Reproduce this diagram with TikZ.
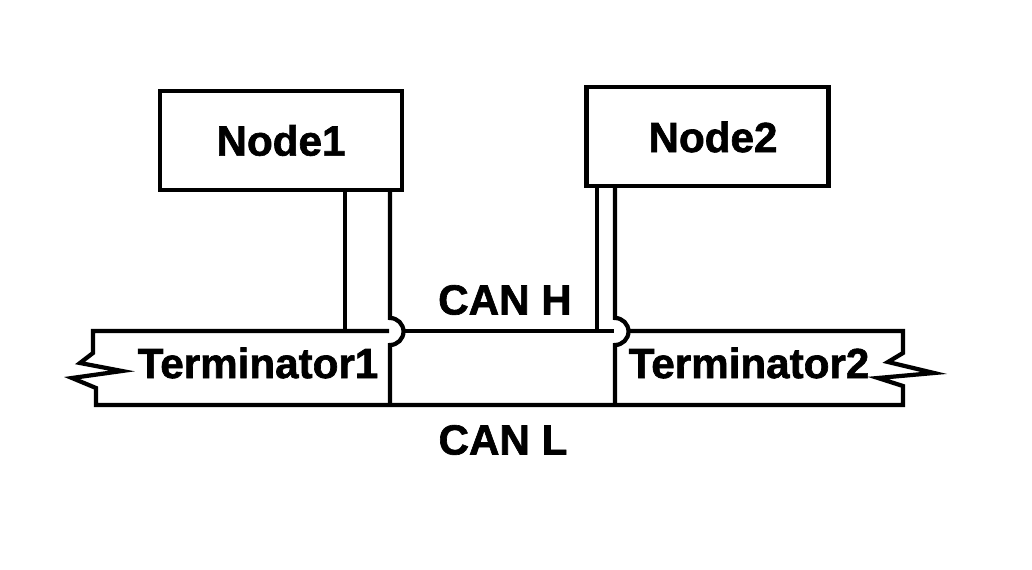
\documentclass[tikz,border=0pt]{standalone}
\usepackage{fontspec}
\setmainfont{Liberation Sans}[BoldFeatures={FakeBold=1.5}]
\begin{document}
\begin{tikzpicture}[x=0.03cm, y=-0.03cm, line width=3.6pt,
  lbl/.style={font=\fontsize{36}{40}\selectfont\bfseries, inner sep=0pt},
  box/.style={draw, minimum width=7.26cm, minimum height=2.97cm}]
\useasboundingbox (0,0) rectangle (1032,570);
\node[box] (n1) at (281,140.5) {};
\node[box] (n2) at (707.5,136.5) {};
\node[lbl] at (n1) {Node1};
\node[lbl] at (713,137) {Node2};
\node[lbl] (canh) at (505,300) {CAN H};
\node[lbl] (canl) at (503,440) {CAN L};
\node[lbl] (t1) at (258,363) {Terminator1};
\node[lbl] (t2) at (749,363) {Terminator2};
% wires from the nodes
\coordinate (a1) at (345,331);
\coordinate (b1) at (390,405);
\coordinate (a2) at (597,331);
\coordinate (b2) at (615,405);
\draw (a1 |- n1.south) -- (a1);
\draw (b1 |- n1.south) -- (390,318) arc (-90:90:13.5) -- (b1);
\draw (a2 |- n2.south) -- (a2);
\draw (b2 |- n2.south) -- (615,318) arc (-90:90:13.5) -- (b2);
% CAN H
\draw (389,331) -- (93,331) -- (93,353) -- (80,363) -- (122,371) -- (72,378) -- (96,388) -- (96,405) -- (903,405)
      -- (903,386) -- (878,378) -- (934,373) -- (888,362) -- (903,353) -- (903,331) -- (629,331);
\draw (404,331) -- (a2) -- (614,331);
\end{tikzpicture}
\end{document}
